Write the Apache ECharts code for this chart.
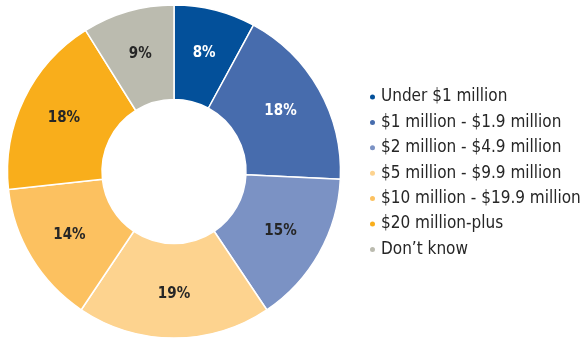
<!DOCTYPE html>
<html>
<head>
<meta charset="utf-8">
<script src="https://cdn.jsdelivr.net/npm/echarts@6/dist/echarts.min.js"></script>
<style>
  html, body { margin: 0; padding: 0; background: #ffffff; }
  #chart { width: 584px; height: 339px; }
</style>
</head>
<body>
<div id="chart"></div>
<script>
// Share of respondents by size bracket
const categories = [
  'Under $1 million',
  '$1 million - $1.9 million',
  '$2 million - $4.9 million',
  '$5 million - $9.9 million',
  '$10 million - $19.9 million',
  '$20 million-plus',
  'Don\u2019t know'
];
const shares = [8, 18, 15, 19, 14, 18, 9];
const sliceColors = ['#03509a', '#476cad', '#7b92c4', '#fdd38f', '#fcc160', '#f9ae1b', '#bbbbaf'];
const labelColors = ['#ffffff', '#ffffff', '#262626', '#262626', '#262626', '#262626', '#262626'];

const FONT = '"Liberation Sans Narrow", "DejaVu Sans Condensed", "Open Sans", sans-serif';

const chart = echarts.init(document.getElementById('chart'), null, { renderer: 'canvas' });

chart.setOption({
  animation: false,
  legend: {
    orient: 'vertical',
    left: 363,
    top: 82,
    icon: 'circle',
    itemWidth: 7,
    itemHeight: 7,
    itemGap: 5.4,
    textStyle: { fontFamily: FONT, fontSize: 17, color: '#262626', lineHeight: 20 },
    data: categories
  },
  series: [{
    type: 'pie',
    center: [174, 171.5],
    radius: [72, 166.5],
    startAngle: 90,
    clockwise: true,
    avoidLabelOverlap: false,
    itemStyle: { borderColor: '#ffffff', borderWidth: 1.5 },
    label: {
      show: true,
      position: 'inside',
      formatter: '{c}%',
      fontFamily: FONT,
      fontSize: 15,
      fontWeight: 'bold'
    },
    labelLine: { show: false },
    emphasis: { disabled: true },
    data: categories.map((name, i) => ({
      name,
      value: shares[i],
      itemStyle: { color: sliceColors[i] },
      label: { color: labelColors[i] }
    }))
  }]
});
</script>
</body>
</html>
